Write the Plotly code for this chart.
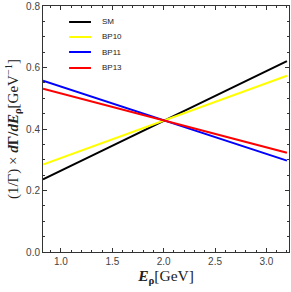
import plotly.graph_objects as go

E = [0.825, 2.0, 3.2]
series = {
    "SM":   [0.236, 0.426, 0.621],
    "BP10": [0.284, 0.427, 0.573],
    "BP11": [0.557, 0.428, 0.297],
    "BP13": [0.531, 0.428, 0.323],
}
colors = {"SM": "black", "BP10": "#ffff00", "BP11": "#0000ff", "BP13": "#ff0000"}
legend_y = [0.935, 0.874, 0.813, 0.748]

fig = go.Figure()
for name, vals in series.items():
    fig.add_trace(go.Scatter(x=E, y=vals, mode="lines", name=name, showlegend=False,
                             line=dict(color=colors[name], width=2)))

# manual legend (compact spacing)
for (name, col), ly in zip(colors.items(), legend_y):
    fig.add_shape(type="line", xref="paper", yref="paper", x0=0.106, x1=0.195, y0=ly, y1=ly,
                  line=dict(color=col, width=2))
    fig.add_annotation(xref="paper", yref="paper", x=0.232, y=ly, text=name, showarrow=False,
                       xanchor="left", yanchor="middle",
                       font=dict(family="Liberation Sans, Arial", size=8, color="#222"))

axis_common = dict(showline=True, linecolor="#333", linewidth=1, mirror="ticks",
                   ticks="inside", ticklen=4, tickcolor="#333", showgrid=False, automargin=False,
                   zeroline=False, tickfont=dict(family="Liberation Sans, Arial", size=10, color="#444"))

fig.update_xaxes(range=[0.825, 3.22], tickvals=[1.0, 1.5, 2.0, 2.5, 3.0], ticktext=["1.0", "1.5", "2.0", "2.5", "3.0"],
                 minor=dict(dtick=0.1, ticks="inside", ticklen=2, tickcolor="#333", tick0=0),
                 title=dict(text="<b><i>E</i><sub>ρ</sub></b>[GeV]", font=dict(family="Liberation Serif, Times New Roman", size=15.5, color="#222"), standoff=2),
                 **axis_common)
fig.update_yaxes(range=[0, 0.8], tickvals=[0.0, 0.2, 0.4, 0.6, 0.8], ticktext=["0.0", "0.2", "0.4", "0.6", "0.8"],
                 minor=dict(dtick=0.05, ticks="inside", ticklen=2, tickcolor="#333", tick0=0),
                 title=dict(text="(1/Γ) × <b><i>d</i>Γ/<i>dE</i><sub>ρ</sub></b>[GeV<sup>−1</sup>]", font=dict(family="Liberation Serif, Times New Roman", size=15, color="#222"), standoff=3),
                 **axis_common)

fig.update_layout(width=291, height=292, margin=dict(l=43, r=2, t=6, b=40),
                  plot_bgcolor="white", paper_bgcolor="white", showlegend=False)

fig.write_html("out.html", config={"displayModeBar": False},
               post_script="document.body.style.margin='0px';document.body.style.overflow='hidden';")
